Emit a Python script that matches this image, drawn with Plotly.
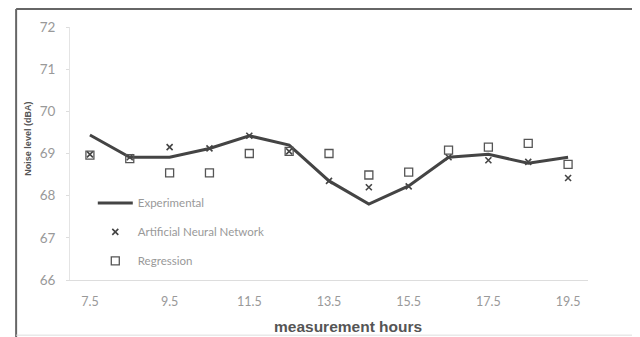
import plotly.graph_objects as go

hours = [7.5, 8.5, 9.5, 10.5, 11.5, 12.5, 13.5, 14.5, 15.5, 16.5, 17.5, 18.5, 19.5]
experimental = [69.44, 68.91, 68.91, 69.12, 69.42, 69.2, 68.35, 67.8, 68.23, 68.91, 68.98, 68.77, 68.91]
ann = [68.98, 68.91, 69.15, 69.12, 69.42, 69.05, 68.35, 68.2, 68.22, 68.91, 68.84, 68.8, 68.42]
regression = [68.96, 68.88, 68.54, 68.54, 69.0, 69.05, 69.0, 68.49, 68.56, 69.08, 69.15, 69.24, 68.74]
x_ticks = [7.5, 9.5, 11.5, 13.5, 15.5, 17.5, 19.5]
y_ticks = [66, 67, 68, 69, 70, 71, 72]

fig = go.Figure()
fig.add_trace(go.Scatter(x=hours, y=experimental, mode="lines", name="Experimental",
                         line=dict(color="#444444", width=3), legendgroup="a"))
fig.add_trace(go.Scatter(x=hours, y=ann, mode="markers", name="Artificial Neural Network",
                         marker=dict(symbol="x-thin", size=6, line=dict(color="#444444", width=1.6)),
                         legendgroup="b"))
fig.add_trace(go.Scatter(x=hours, y=regression, mode="markers", name="Regression",
                         marker=dict(symbol="square-open", size=8, color="#555555", line=dict(width=1.3)),
                         legendgroup="c"))

fig.update_layout(
    width=640, height=337,
    margin=dict(l=62, r=60, t=19, b=65),
    paper_bgcolor="white", plot_bgcolor="white",
    font=dict(family="Lato, Open Sans, sans-serif", color="#888888"),
    showlegend=True,
    legend=dict(x=0.044, y=0.362, xanchor="left", yanchor="top", bgcolor="rgba(0,0,0,0)",
                font=dict(size=11.5, color="#999999"), tracegroupgap=10, itemwidth=35),
    xaxis=dict(range=[7, 20], tickvals=x_ticks, ticktext=[str(v) for v in x_ticks],
               showgrid=False, zeroline=False, showline=True, linecolor="#dddddd", linewidth=1,
               ticks="", tickfont=dict(size=12.5, color="#999999"), ticklabelstandoff=10),
    yaxis=dict(range=[66, 72], tickvals=y_ticks, showgrid=False, zeroline=False,
               showline=True, linecolor="#e4e4e4", linewidth=1, ticks="outside", ticklen=3,
               tickcolor="#dddddd", tickfont=dict(size=13.5, color="#999999"), ticklabelstandoff=8),
    annotations=[
        dict(text="<b>measurement hours</b>", xref="paper", yref="paper", x=0.536, y=-0.182,
             xanchor="center", yanchor="middle", showarrow=False,
             font=dict(family="Liberation Sans, Arial, sans-serif", size=15.5, color="#555555")),
        dict(text="<b>Noise level (dBA)</b>", xref="paper", yref="paper", x=-0.08, y=0.557,
             xanchor="center", yanchor="middle", showarrow=False, textangle=-90,
             font=dict(family="Liberation Sans, Arial, sans-serif", size=9, color="#555555")),
    ],
    shapes=[
        dict(type="line", xref="paper", yref="paper", x0=-0.104, x1=1.2, y0=1.071, y1=1.071,
             line=dict(color="#666666", width=2)),
        dict(type="line", xref="paper", yref="paper", x0=-0.104, x1=-0.104, y0=1.071, y1=-0.3,
             line=dict(color="#666666", width=2)),
        dict(type="line", xref="paper", yref="paper", x0=-0.104, x1=1.2, y0=-0.218, y1=-0.218,
             line=dict(color="#dddddd", width=1)),
    ],
)

fig.write_html("out.html")
